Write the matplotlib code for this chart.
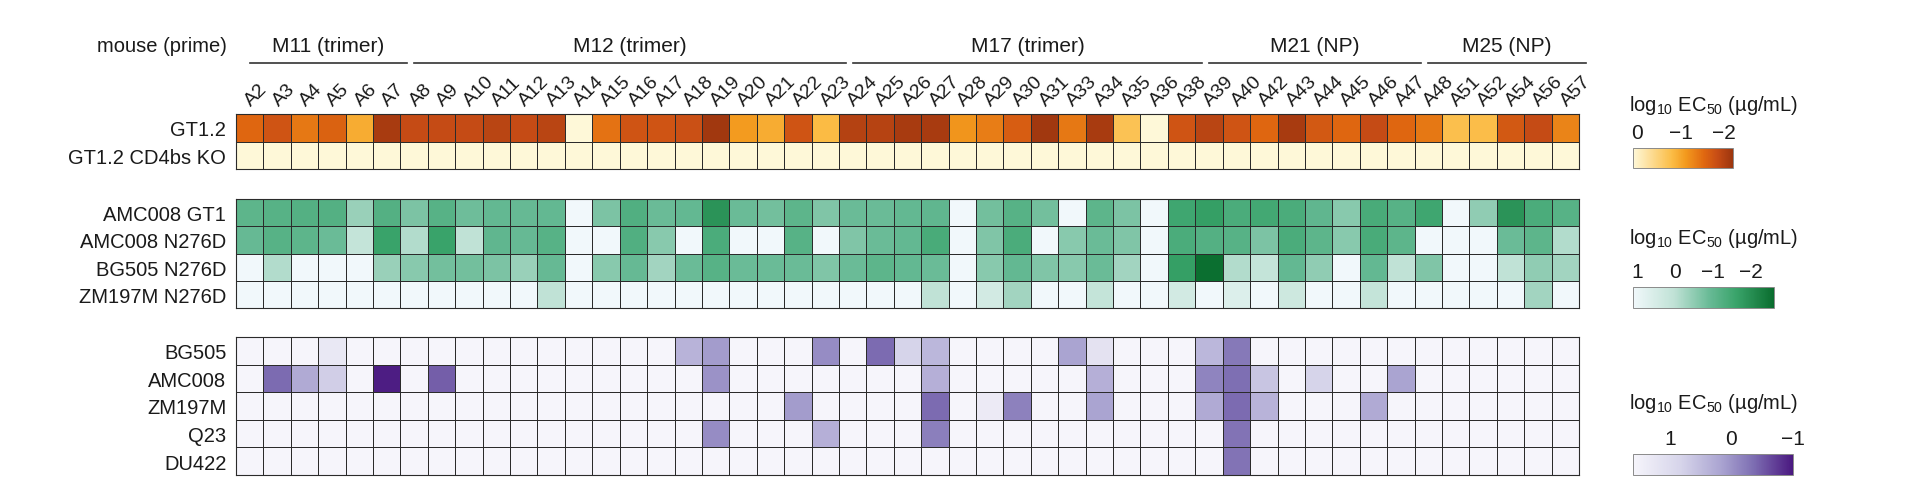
import matplotlib
matplotlib.use("Agg")
import matplotlib.pyplot as plt
import numpy as np
from matplotlib.colors import LinearSegmentedColormap, Normalize
from matplotlib.lines import Line2D
from matplotlib.transforms import blended_transform_factory


plt.rcParams.update(
    {
        "font.family": ["Liberation Sans", "DejaVu Sans"],
        "font.size": 14,
        "text.color": "#1a1a1a",
        "xtick.color": "#1a1a1a",
        "ytick.color": "#1a1a1a",
    }
)

COLUMNS = [
    "A2", "A3", "A4", "A5", "A6", "A7",
    "A8", "A9", "A10", "A11", "A12", "A13", "A14", "A15", "A16", "A17", "A18", "A19",
    "A20", "A21", "A22", "A23",
    "A24", "A25", "A26", "A27", "A28", "A29", "A30", "A31", "A33", "A34", "A35", "A36", "A38",
    "A39", "A40", "A42", "A43", "A44", "A45", "A46", "A47",
    "A48", "A51", "A52", "A54", "A56", "A57",
]
GROUPS = ["M11 (trimer)", "M12 (trimer)", "M17 (trimer)", "M21 (NP)", "M25 (NP)"]
GROUP_SIZES = [6, 16, 13, 8, 6]

# log10 EC50 (ug/mL), one list per row, columns in COLUMNS order
GT_ROWS = ["GT1.2", "GT1.2 CD4bs KO"]
GT_VALUES = [
    [-1.55, -1.75, -1.4, -1.6, -0.95, -2.1,
     -1.85, -1.85, -1.85, -1.95, -1.85, -1.95, 0.1, -1.45, -1.75, -1.75, -1.8, -2.15, -1.1, -0.95, -1.75, -0.8,
     -2.0, -1.98, -2.1, -2.1, -1.15, -1.35, -1.65, -2.15, -1.4, -2.1, -0.7, 0.1, -1.75,
     -1.95, -1.75, -1.55, -2.1, -1.7, -1.55, -1.85, -1.55,
     -1.4, -0.75, -0.78, -1.7, -1.85, -1.3],
    [0.1, 0.1, 0.1, 0.1, 0.1, 0.1,
     0.1, 0.1, 0.1, 0.1, 0.1, 0.1, 0.1, 0.1, 0.1, 0.1, 0.1, 0.1, 0.1, 0.1, 0.1, 0.1,
     0.1, 0.1, 0.1, 0.1, 0.1, 0.1, 0.1, 0.1, 0.1, 0.1, 0.1, 0.1, 0.1,
     0.1, 0.1, 0.1, 0.1, 0.1, 0.1, 0.1, 0.1,
     0.1, 0.1, 0.1, 0.1, 0.1, 0.1],
]

N276_ROWS = ["AMC008 GT1", "AMC008 N276D", "BG505 N276D", "ZM197M N276D"]
N276_VALUES = [
    [-1.07, -1.16, -1.2, -1.2, -0.39, -1.2,
     -0.7, -1.16, -0.85, -0.98, -0.93, -0.98, 1.1, -0.7, -1.25, -0.89, -0.98, -1.92, -0.89, -0.8, -1.07, -0.66,
     -0.89, -0.89, -0.98, -1.02, 1.1, -0.8, -1.16, -0.8, 1.1, -1.07, -0.7, 1.1, -1.52,
     -1.7, -1.34, -1.47, -1.34, -1.02, -0.57, -1.38, -1.16,
     -1.52, 1.1, -0.48, -1.92, -1.34, -1.16],
    [-0.93, -1.16, -1.07, -0.89, 0.11, -1.61,
     -0.12, -1.61, 0.02, -1.02, -0.93, -1.16, 1.1, 1.1, -1.25, -0.57, 1.1, -1.34, 1.1, 1.1, -1.16, 1.1,
     -0.66, -0.89, -0.98, -1.38, 1.1, -0.66, -1.34, 1.1, -0.57, -0.89, -0.66, 1.1, -1.34,
     -1.2, -1.16, -0.7, -1.34, -1.07, -0.57, -1.38, -1.07,
     1.1, 1.1, 1.1, -0.89, -1.07, -0.12],
    [1.1, -0.12, 1.1, 1.1, 1.1, -0.39,
     -0.57, -0.8, -0.8, -0.7, -0.39, -0.93, 1.1, -0.57, -0.93, -0.3, -0.89, -1.16, -0.89, -0.89, -0.89, -0.66,
     -0.89, -1.07, -0.98, -0.89, 1.1, -0.57, -0.98, -0.66, -0.57, -0.89, -0.3, 1.1, -1.7,
     -2.56, -0.12, 0.11, -0.98, -0.48, 1.1, -0.98, 0.02,
     -0.66, 1.1, 1.1, 0.02, -0.48, -0.3],
    [1.1, 1.1, 1.1, 1.1, 1.1, 1.1,
     1.1, 1.1, 1.1, 1.1, 1.1, 0.02, 1.1, 1.1, 1.1, 1.1, 1.1, 1.1, 1.1, 1.1, 1.1, 1.1,
     1.1, 1.1, 1.1, 0.02, 1.1, 0.42, -0.3, 1.1, 1.1, 0.11, 1.1, 1.1, 0.42,
     1.1, 0.65, 1.1, 0.3, 1.1, 1.1, 0.11, 1.1,
     1.1, 1.1, 1.1, 1.1, -0.3, 1.1],
]

WT_ROWS = ["BG505", "AMC008", "ZM197M", "Q23", "DU422"]
WT_VALUES = [
    [1.6, 1.6, 1.6, 1.29, 1.6, 1.6,
     1.6, 1.6, 1.6, 1.6, 1.6, 1.6, 1.6, 1.6, 1.6, 1.6, 0.38, 0.09, 1.6, 1.6, 1.6, -0.06,
     1.6, -0.38, 0.82, 0.43, 1.6, 1.6, 1.6, 1.6, 0.17, 1.16, 1.6, 1.6, 1.6,
     0.43, -0.25, 1.6, 1.6, 1.6, 1.6, 1.6, 1.6,
     1.6, 1.6, 1.6, 1.6, 1.6, 1.6],
    [1.6, -0.38, 0.25, 0.74, 1.6, -0.95,
     1.6, -0.48, 1.6, 1.6, 1.6, 1.6, 1.6, 1.6, 1.6, 1.6, 1.6, -0.01, 1.6, 1.6, 1.6, 1.6,
     1.6, 1.6, 1.6, 0.33, 1.6, 1.6, 1.6, 1.6, 1.6, 0.33, 1.6, 1.6, 1.6,
     -0.14, -0.34, 0.61, 1.6, 0.82, 1.6, 1.6, 0.17,
     1.6, 1.6, 1.6, 1.6, 1.6, 1.6],
    [1.6, 1.6, 1.6, 1.6, 1.6, 1.6,
     1.6, 1.6, 1.6, 1.6, 1.6, 1.6, 1.6, 1.6, 1.6, 1.6, 1.6, 1.6, 1.6, 1.6, 0.09, 1.6,
     1.6, 1.6, 1.6, -0.38, 1.6, 1.34, -0.17, 1.6, 1.6, 0.17, 1.6, 1.6, 1.6,
     0.25, -0.38, 0.38, 1.6, 1.6, 1.6, 0.25, 1.6,
     1.6, 1.6, 1.6, 1.6, 1.6, 1.6],
    [1.6, 1.6, 1.6, 1.6, 1.6, 1.6,
     1.6, 1.6, 1.6, 1.6, 1.6, 1.6, 1.6, 1.6, 1.6, 1.6, 1.6, -0.06, 1.6, 1.6, 1.6, 0.33,
     1.6, 1.6, 1.6, -0.19, 1.6, 1.6, 1.6, 1.6, 1.6, 1.6, 1.6, 1.6, 1.6,
     1.6, -0.3, 1.6, 1.6, 1.6, 1.6, 1.6, 1.6,
     1.6, 1.6, 1.6, 1.6, 1.6, 1.6],
    [1.6, 1.6, 1.6, 1.6, 1.6, 1.6,
     1.6, 1.6, 1.6, 1.6, 1.6, 1.6, 1.6, 1.6, 1.6, 1.6, 1.6, 1.6, 1.6, 1.6, 1.6, 1.6,
     1.6, 1.6, 1.6, 1.6, 1.6, 1.6, 1.6, 1.6, 1.6, 1.6, 1.6, 1.6, 1.6,
     1.6, -0.3, 1.6, 1.6, 1.6, 1.6, 1.6, 1.6,
     1.6, 1.6, 1.6, 1.6, 1.6, 1.6],
]

# colour scales, light (weak) -> dark (strong)
ORANGE = LinearSegmentedColormap.from_list(
    "gt", [(0, "#fef8d8"), (0.39, "#fbbc45"), (0.525, "#f39a1e"), (0.71, "#e06810"), (0.84, "#c84d15"), (1, "#9c350e")]
)
GREEN = LinearSegmentedColormap.from_list(
    "n276", [(0, "#f1f8fb"), (0.29, "#c0e2d6"), (0.55, "#66b994"), (0.73, "#3aa46b"), (1, "#0a6d2e")]
)
PURPLE = LinearSegmentedColormap.from_list(
    "wt", [(0, "#f6f5fb"), (0.3, "#d6d4ea"), (0.55, "#aaa4d1"), (0.75, "#7e6fb3"), (1, "#4a1880")]
)

W, H = 1920, 489
LEFT, RIGHT = 236, 1579
EDGE = "#2b2b2b"


def px_rect(x0, y0, x1, y1):
    return [x0 / W, 1 - y1 / H, (x1 - x0) / W, (y1 - y0) / H]


def draw_panel(fig, rect, rows, values, cmap, vmin, vmax):
    ax = fig.add_axes(rect)
    norm = Normalize(vmin=vmin, vmax=vmax)
    mesh = ax.pcolormesh(
        np.array(values), cmap=cmap.reversed(), norm=norm, edgecolors=EDGE, linewidth=0.7
    )
    ax.set_xlim(0, len(COLUMNS))
    ax.set_ylim(len(rows), 0)
    ax.set_xticks([])
    ax.set_yticks(np.arange(len(rows)) + 0.5)
    ax.set_yticklabels(rows, fontsize=14.5)
    ax.tick_params(axis="y", length=0, pad=7)
    for spine in ax.spines.values():
        spine.set_color(EDGE)
        spine.set_linewidth(0.8)
    return ax, mesh


def draw_colorbar(fig, mesh, rect, ticks, title, title_y):
    cax = fig.add_axes(rect)
    cbar = fig.colorbar(mesh, cax=cax, orientation="horizontal")
    cax.invert_xaxis()
    cax.xaxis.set_ticks_position("top")
    cbar.set_ticks(ticks)
    cbar.set_ticklabels([f"{t:g}".replace("-", "\u2212") for t in ticks])
    cax.tick_params(length=0, pad=4, labelsize=15)
    cbar.outline.set_edgecolor("#8a8a8a")
    cbar.outline.set_linewidth(0.7)
    fig.text(1629 / W, 1 - title_y / H, title, fontsize=14.5, ha="left", va="baseline")


fig = plt.figure(figsize=(19.2, 4.89), dpi=100)

ax_gt, mesh_gt = draw_panel(fig, px_rect(LEFT, 115, RIGHT, 170), GT_ROWS, GT_VALUES, ORANGE, -2.2, 0.1)
ax_n, mesh_n = draw_panel(fig, px_rect(LEFT, 200, RIGHT, 309), N276_ROWS, N276_VALUES, GREEN, -2.6, 1.1)
ax_w, mesh_w = draw_panel(fig, px_rect(LEFT, 338, RIGHT, 476), WT_ROWS, WT_VALUES, PURPLE, -1.0, 1.6)

# column labels
for i, name in enumerate(COLUMNS):
    ax_gt.annotate(
        name,
        xy=(i + 0.55, 1),
        xycoords=("data", "axes fraction"),
        xytext=(0, 6),
        textcoords="offset points",
        rotation=45,
        rotation_mode="anchor",
        ha="left",
        va="baseline",
        fontsize=14,
    )

# group headers
trans = blended_transform_factory(ax_gt.transData, fig.transFigure)
start = 0
for name, size in zip(GROUPS, GROUP_SIZES):
    x0, x1 = start + 0.5, start + size + 0.25
    fig.add_artist(Line2D([x0, x1], [1 - 64 / H, 1 - 64 / H], transform=trans, color="#333333", linewidth=1.2))
    fig.text((x0 + x1) / 2, 1 - 47 / H, name, transform=trans, ha="center", va="center", fontsize=15)
    start += size
fig.text(227 / W, 1 - 47 / H, "mouse (prime)", ha="right", va="center", fontsize=14.5)

cb_title = r"$\mathregular{log_{10}}$ $\mathregular{EC_{50}}$ (µg/mL)"
draw_colorbar(fig, mesh_gt, px_rect(1633, 149, 1733, 169), [0, -1, -2], cb_title, 111)
draw_colorbar(fig, mesh_n, px_rect(1633, 288, 1774, 309), [1, 0, -1, -2], cb_title, 244)
draw_colorbar(fig, mesh_w, px_rect(1633, 455, 1793, 476), [1, 0, -1], cb_title, 409)

fig.savefig("out.png", dpi=100)
plt.close(fig)
